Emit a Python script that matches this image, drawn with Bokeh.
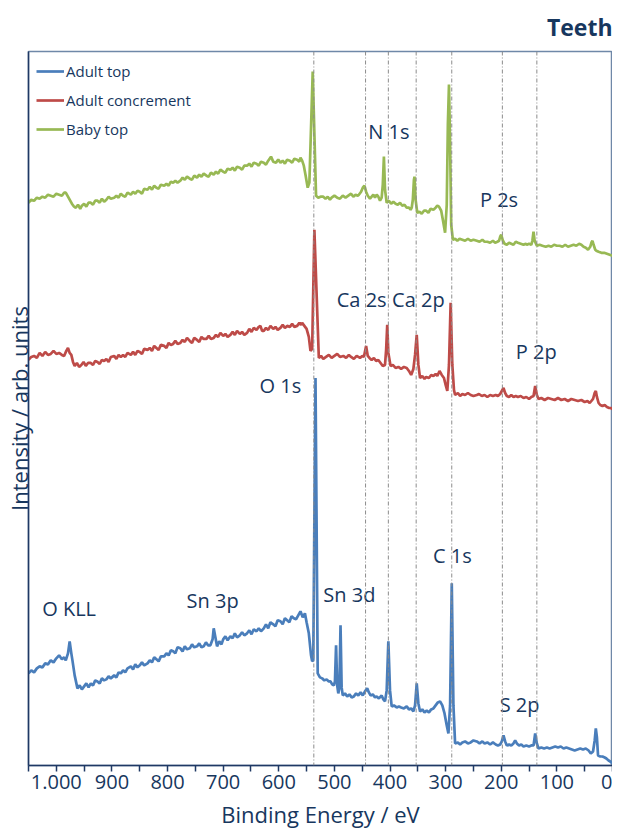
from bokeh.plotting import figure
from bokeh.models import Range1d, FixedTicker, Span, Legend, LegendItem, ColumnDataSource
from bokeh.core.properties import value
from bokeh.embed import file_html
from bokeh.resources import INLINE

FONT = "Open Sans"
NAVY = "#17375E"

# ---- data (binding energy in eV, intensity in arb. units, offset per spectrum) ----
energy_adult_top = [
    1050, 1045, 1040, 1035, 1030, 1025, 1020, 1015, 1010, 1005, 1000, 995, 990, 986, 983, 979, 976, 973,
    971, 967, 962, 958, 954, 950, 946, 942, 938, 934, 930, 926, 922, 918, 914, 910, 906, 902, 896, 892,
    888, 884, 880, 876, 872, 866, 862, 858, 854, 850, 846, 842, 836, 832, 828, 824, 820, 816, 812, 806,
    802, 798, 794, 790, 786, 782, 777, 773, 769, 765, 760, 756, 752, 747, 743, 739, 735, 731, 727, 723,
    719, 717, 714, 711, 707, 703, 700, 696, 692, 687, 683, 679, 675, 670, 666, 662, 657, 653, 649, 645,
    640, 636, 632, 627, 623, 619, 615, 610, 606, 602, 597, 593, 589, 585, 581, 577, 573, 569, 565, 561,
    557, 553, 550, 546, 542, 540, 538, 534, 530, 526, 522, 518, 514, 510, 507, 504, 501, 499, 497, 495,
    493, 491, 489, 487, 485, 481, 477, 473, 469, 465, 461, 457, 453, 449, 445, 441, 438, 435, 431, 427,
    424, 420, 415, 412, 409, 406, 403, 400, 397, 393, 388, 384, 380, 375, 370, 366, 362, 358, 355, 352,
    349, 346, 342, 338, 334, 330, 326, 322, 318, 314, 310, 306, 302, 298, 295, 292, 289, 286, 283, 278,
    274, 270, 265, 260, 255, 250, 244, 239, 234, 230, 225, 220, 215, 210, 206, 202, 199, 196, 193, 190,
    186, 182, 178, 175, 172, 168, 164, 160, 155, 150, 146, 142, 139, 136, 133, 128, 123, 118, 113, 108,
    103, 98, 93, 88, 83, 78, 73, 68, 63, 58, 53, 48, 43, 39, 35, 32, 30, 28, 26, 22, 18, 14, 11, 7, 4, 0]
intensity_adult_top = [
    92, 95, 93, 97, 99, 98, 102, 101, 105, 103, 107, 110, 106, 108, 105, 112, 124, 112,
    105, 90, 77, 80, 76, 79, 82, 78, 82, 80, 85, 84, 82, 87, 85, 86, 89, 87, 90, 88,
    93, 92, 95, 93, 97, 99, 96, 101, 98, 100, 103, 100, 102, 105, 103, 108, 106, 104, 109, 109,
    112, 110, 115, 114, 112, 118, 117, 114, 119, 116, 117, 121, 118, 119, 122, 118, 119, 123, 120, 120,
    126, 137, 128, 119, 124, 121, 126, 129, 125, 129, 127, 132, 128, 130, 133, 130, 132, 135, 131, 136,
    134, 137, 134, 137, 141, 137, 143, 141, 139, 145, 144, 141, 147, 145, 143, 149, 147, 146, 150, 154,
    148, 152, 143, 132, 110, 104, 105, 387, 92, 88, 87, 85, 86, 84, 84, 81, 80, 84, 120, 80,
    72, 78, 140, 78, 70, 72, 69, 71, 68, 69, 72, 70, 73, 70, 74, 77, 73, 70, 71, 68,
    69, 67, 70, 66, 64, 75, 124, 75, 59, 60, 58, 59, 58, 57, 59, 56, 57, 54, 60, 82,
    62, 54, 56, 53, 55, 53, 56, 57, 60, 63, 64, 60, 52, 40, 32, 60, 182, 60, 22, 23,
    21, 23, 24, 22, 23, 25, 24, 22, 24, 22, 23, 21, 23, 21, 20, 21, 24, 30, 24, 20,
    21, 20, 22, 25, 22, 20, 21, 19, 20, 19, 20, 20, 32, 22, 17, 18, 17, 18, 17, 18,
    19, 18, 19, 17, 18, 17, 16, 15, 16, 17, 16, 17, 15, 12, 14, 25, 37, 28, 10, 9, 9, 8, 7, 5, 4, 2]

energy_adult_concrement = [
    1050, 1045, 1040, 1035, 1030, 1025, 1020, 1015, 1010, 1005, 1000, 995, 990, 986, 982, 979, 976, 973,
    970, 967, 963, 959, 955, 951, 947, 943, 938, 934, 930, 926, 922, 918, 914, 910, 906, 902, 896, 892,
    888, 884, 880, 876, 872, 866, 862, 858, 854, 850, 846, 842, 836, 832, 828, 824, 820, 816, 812, 806,
    802, 798, 794, 790, 786, 782, 777, 773, 769, 765, 760, 756, 752, 747, 743, 739, 735, 730, 726, 722,
    717, 713, 709, 705, 700, 696, 692, 687, 683, 679, 675, 670, 666, 662, 657, 653, 649, 645, 640, 636,
    633, 630, 627, 623, 619, 615, 610, 606, 602, 597, 593, 589, 585, 580, 576, 572, 567, 563, 560, 558,
    554, 550, 546, 543, 540, 536, 528, 524, 520, 515, 510, 505, 500, 495, 490, 484, 479, 474, 470, 465,
    460, 454, 450, 447, 443, 440, 437, 433, 429, 425, 421, 417, 413, 409, 407, 405, 403, 399, 395, 390,
    385, 380, 375, 370, 366, 362, 358, 355, 352, 349, 346, 342, 338, 335, 330, 326, 322, 318, 315, 311,
    307, 303, 300, 297, 294, 291, 288, 285, 283, 278, 274, 270, 265, 260, 255, 250, 244, 240, 235, 230,
    225, 220, 215, 210, 206, 202, 199, 196, 193, 190, 186, 182, 178, 174, 170, 165, 160, 155, 150, 146,
    142, 139, 136, 133, 128, 122, 116, 110, 104, 98, 92, 86, 80, 74, 68, 62, 56, 50, 45, 41, 38, 35,
    32, 30, 28, 25, 22, 18, 14, 10, 6, 3, 0]
intensity_adult_concrement = [
    405, 408, 409, 407, 412, 409, 413, 410, 411, 414, 411, 412, 410, 409, 414, 417, 412, 410,
    403, 399, 402, 398, 400, 403, 399, 402, 402, 400, 404, 403, 401, 405, 404, 406, 403, 408, 409, 406,
    410, 408, 410, 408, 412, 410, 413, 410, 414, 413, 411, 416, 415, 417, 414, 419, 417, 415, 420, 419,
    417, 422, 420, 421, 424, 421, 422, 425, 423, 427, 424, 422, 427, 425, 423, 428, 426, 426, 429, 426,
    427, 430, 428, 432, 429, 431, 428, 430, 433, 430, 434, 431, 433, 430, 432, 436, 433, 437, 435, 438,
    439, 434, 434, 437, 435, 439, 436, 438, 435, 437, 440, 437, 439, 438, 441, 438, 439, 442, 440, 442,
    439, 436, 428, 414, 416, 535, 407, 409, 406, 408, 410, 407, 409, 411, 408, 409, 407, 410, 408, 406,
    409, 407, 409, 408, 419, 409, 407, 405, 407, 404, 405, 402, 399, 400, 415, 440, 412, 399, 400, 397,
    398, 396, 398, 397, 394, 390, 396, 410, 430, 400, 387, 389, 386, 388, 387, 390, 389, 391, 389, 394,
    390, 387, 380, 374, 400, 462, 400, 375, 370, 372, 369, 371, 370, 372, 370, 369, 370, 371, 369, 370,
    368, 370, 369, 370, 369, 371, 374, 377, 372, 369, 368, 370, 368, 369, 368, 369, 367, 368, 366, 368,
    369, 379, 370, 366, 367, 365, 367, 366, 365, 367, 365, 366, 364, 366, 365, 364, 365, 363, 364, 362, 364, 366,
    372, 374, 368, 362, 360, 359, 360, 358, 357, 357, 356]

energy_baby_top = [
    1050, 1045, 1040, 1035, 1030, 1025, 1020, 1015, 1010, 1005, 1000, 995, 990, 986, 983, 980, 976, 972,
    968, 965, 961, 957, 954, 950, 946, 942, 938, 934, 930, 926, 922, 918, 914, 910, 906, 902, 896, 892,
    888, 884, 880, 876, 872, 866, 862, 858, 854, 850, 846, 842, 836, 832, 828, 824, 820, 816, 812, 806,
    802, 798, 794, 790, 786, 782, 777, 773, 769, 765, 760, 756, 752, 747, 743, 739, 735, 730, 726, 722,
    717, 713, 709, 705, 700, 696, 692, 687, 683, 679, 675, 670, 666, 662, 657, 653, 649, 645, 640, 636,
    632, 627, 623, 619, 614, 610, 605, 601, 597, 593, 589, 585, 580, 576, 572, 567, 563, 561, 558, 555,
    552, 548, 545, 539, 533, 529, 525, 520, 516, 512, 508, 505, 500, 495, 490, 485, 480, 475, 470, 466,
    462, 458, 456, 452, 449, 446, 443, 440, 436, 433, 430, 427, 424, 421, 418, 415, 413, 411, 409, 406,
    402, 398, 394, 390, 386, 382, 378, 374, 370, 366, 363, 361, 359, 357, 356, 354, 351, 347, 343, 339,
    335, 331, 327, 322, 318, 315, 312, 308, 305, 301, 298, 296, 294, 292, 290, 287, 283, 279, 275, 270,
    265, 260, 255, 250, 244, 239, 234, 230, 225, 220, 215, 211, 207, 204, 202, 200, 197, 194, 190, 186,
    182, 178, 174, 170, 165, 160, 156, 154, 150, 146, 144, 142, 140, 136, 131, 126, 120, 115, 110, 105,
    100, 95, 90, 85, 80, 75, 70, 65, 60, 56, 52, 48, 44, 40, 38, 36, 34, 31, 29, 25, 20, 15, 10, 5, 0]
intensity_baby_top = [
    562, 565, 564, 567, 566, 568, 567, 570, 569, 568, 571, 570, 569, 572, 572, 569, 565, 561,
    558, 557, 560, 556, 559, 561, 558, 562, 562, 560, 564, 564, 562, 566, 563, 565, 568, 566, 567, 569,
    567, 571, 569, 568, 572, 570, 573, 571, 574, 573, 571, 576, 575, 578, 575, 579, 577, 576, 580, 579,
    581, 579, 583, 582, 584, 582, 584, 587, 585, 588, 586, 585, 589, 587, 590, 588, 591, 589, 588, 592,
    590, 593, 591, 595, 593, 592, 596, 595, 597, 594, 598, 597, 595, 599, 599, 601, 598, 602, 601, 599,
    603, 602, 600, 604, 608, 603, 602, 605, 602, 604, 601, 605, 604, 602, 606, 605, 603, 607, 604, 599,
    590, 577, 582, 693, 569, 567, 568, 568, 566, 568, 565, 567, 569, 567, 566, 569, 567, 569, 571, 568,
    570, 569, 570, 573, 577, 579, 573, 569, 566, 568, 570, 567, 570, 568, 564, 567, 580, 608, 575, 562,
    564, 561, 563, 561, 560, 562, 559, 560, 557, 557, 555, 557, 565, 585, 588, 565, 552, 553, 551, 554,
    554, 552, 556, 555, 557, 559, 558, 554, 545, 532, 560, 640, 680, 620, 540, 525, 526, 524, 526, 525,
    524, 526, 524, 525, 524, 523, 525, 523, 523, 522, 524, 522, 523, 524, 528, 530, 524, 521, 520, 522,
    521, 520, 523, 522, 521, 520, 521, 520, 521, 520, 524, 533, 524, 519, 520, 519, 518, 519, 518, 520,
    519, 519, 518, 520, 518, 519, 520, 519, 521, 520, 518, 517, 515, 518, 522, 524, 520, 515, 514, 513, 512, 512, 511, 510, 509]

marker_energies = [537, 444, 403, 353, 289, 198, 136]

peak_labels = ["N 1s", "P 2s", "Ca 2s", "Ca 2p", "P 2p", "O 1s", "C 1s", "Sn 3d", "S 2p", "O KLL", "Sn 3p"]
peak_label_energy = [402, 204, 451, 349, 137, 597, 288, 473, 167, 977, 719]
peak_label_intensity = [633, 565, 465, 465, 413, 379, 210, 171, 61, 157, 165]

major_ticks = [1000, 900, 800, 700, 600, 500, 400, 300, 200, 100, 0]
minor_ticks = [1050, 950, 850, 750, 650, 550, 450, 350, 250, 150, 50]

# ---- figure ----
p = figure(width=612, height=831, output_backend="svg", toolbar_location=None,
           x_range=Range1d(1050, 0), y_range=Range1d(0, 713),
           min_border_left=26, min_border_right=0, min_border_top=0, min_border_bottom=0,
           background_fill_color="white", border_fill_color="white")

p.title.text = "Teeth"
p.title.align = "right"
p.title.text_font = FONT
p.title.text_font_size = "23px"
p.title.text_font_style = "bold"
p.title.text_color = NAVY
p.title.standoff = 17

p.outline_line_color = "#6F88A8"
p.outline_line_width = 1.5
p.grid.visible = False

# x axis
xa = p.xaxis[0]
xa.ticker = FixedTicker(ticks=major_ticks, minor_ticks=minor_ticks)
xa.major_label_overrides = {1000: "1.000"}
xa.axis_label = "Binding Energy / eV"
xa.axis_label_text_font = FONT
xa.axis_label_text_font_size = "22px"
xa.axis_label_text_font_style = "normal"
xa.axis_label_text_color = NAVY
xa.axis_label_standoff = 7
xa.major_label_text_font = FONT
xa.major_label_text_font_size = "20px"
xa.major_label_text_color = NAVY
xa.major_label_standoff = 3
xa.axis_line_color = "#1F3864"
xa.axis_line_width = 1.5
xa.major_tick_line_color = "#1F3864"
xa.minor_tick_line_color = "#1F3864"
xa.major_tick_line_width = 1.5
xa.minor_tick_line_width = 1.5
xa.major_tick_in = 0
xa.major_tick_out = 6
xa.minor_tick_in = 0
xa.minor_tick_out = 6

# y axis (no ticks, only the label)
ya = p.yaxis[0]
ya.ticker = FixedTicker(ticks=[], minor_ticks=[])
ya.axis_label = "Intensity / arb. units"
ya.axis_label_text_font = FONT
ya.axis_label_text_font_size = "22px"
ya.axis_label_text_font_style = "normal"
ya.axis_label_text_color = NAVY
ya.axis_label_standoff = -5
ya.major_tick_in = 0
ya.major_tick_out = 0
ya.minor_tick_in = 0
ya.minor_tick_out = 0
ya.major_label_standoff = 0
ya.axis_line_color = "#1F3864"
ya.axis_line_width = 1.5

# marker lines
for e in marker_energies:
    p.add_layout(Span(location=e, dimension="height", line_color="#8C8C8C",
                      line_width=1, line_dash="4 2 1 2"))

r_green = p.line(energy_baby_top, intensity_baby_top, line_color="#98B954", line_width=2.7)
r_red = p.line(energy_adult_concrement, intensity_adult_concrement, line_color="#BE4B48", line_width=2.7)
r_blue = p.line(energy_adult_top, intensity_adult_top, line_color="#4A7EBB", line_width=2.7)

src = ColumnDataSource(dict(x=peak_label_energy, y=peak_label_intensity, t=peak_labels))
p.text(x="x", y="y", text="t", source=src, text_font=value(FONT), text_font_size="20px",
       text_color=NAVY, text_align="center", text_baseline="middle")

legend = Legend(items=[LegendItem(label="Adult top", renderers=[r_blue]),
                       LegendItem(label="Adult concrement", renderers=[r_red]),
                       LegendItem(label="Baby top", renderers=[r_green])],
                location="top_left", border_line_color=None, background_fill_alpha=0,
                label_text_font=FONT, label_text_font_size="15px", label_text_color=NAVY,
                glyph_width=28, glyph_height=24, label_height=24, label_standoff=2,
                spacing=5, padding=8, margin=8)
p.add_layout(legend)

open("out.html", "w").write(file_html(p, INLINE))
